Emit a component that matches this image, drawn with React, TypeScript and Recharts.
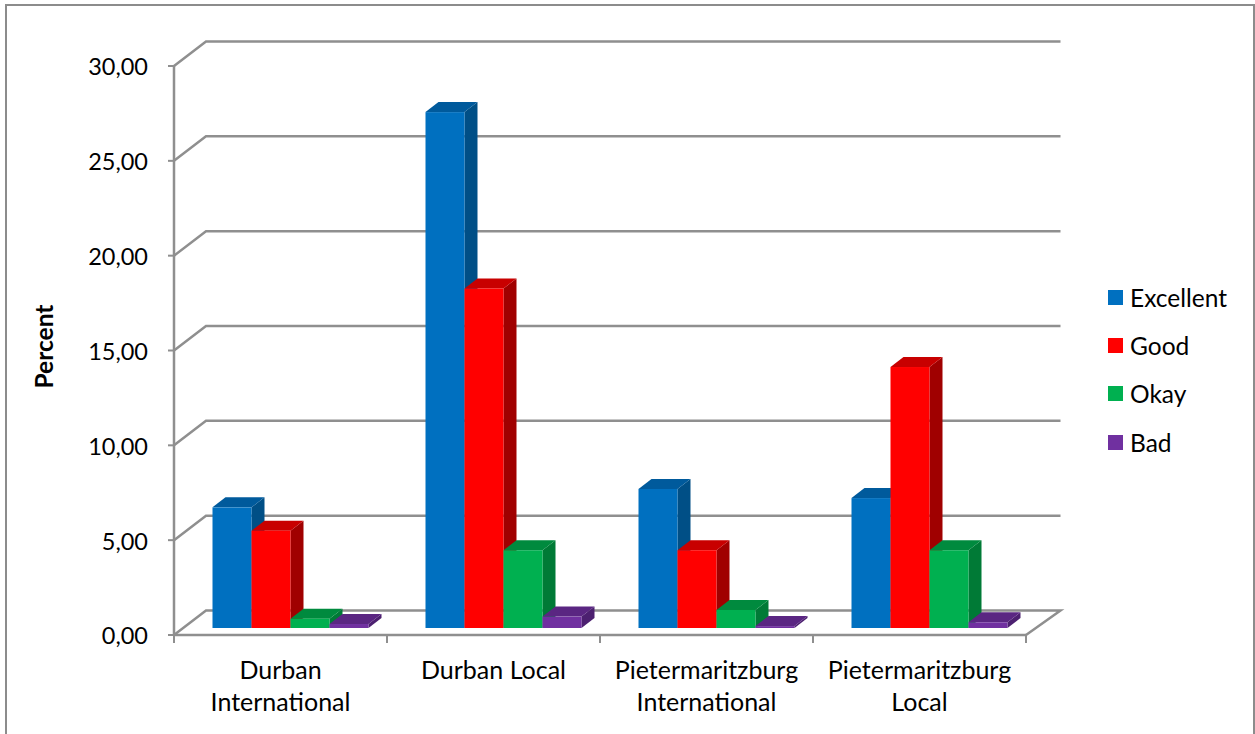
import { BarChart, Bar, XAxis, YAxis, CartesianGrid, Legend } from "recharts";

const categories = [
  "Durban International",
  "Durban Local",
  "Pietermaritzburg International",
  "Pietermaritzburg Local",
];
const categoryLines = [
  ["Durban", "International"],
  ["Durban Local"],
  ["Pietermaritzburg", "International"],
  ["Pietermaritzburg", "Local"],
];
const excellent = [6.36, 27.2, 7.33, 6.85];
const good = [5.13, 17.9, 4.1, 13.76];
const okay = [0.49, 4.1, 0.95, 4.1];
const bad = [0.21, 0.6, 0.1, 0.3];
const yTicks = [0, 5, 10, 15, 20, 25, 30];

const data = categories.map((name, i) => ({
  name,
  Excellent: excellent[i],
  Good: good[i],
  Okay: okay[i],
  Bad: bad[i],
}));

const FONT = "Lato, sans-serif";
const LINE = "#8f8f8f";
const BAND = 213;
// back wall sits up and to the right of the front axes
const WALL_DX = 32;
const WALL_DY = 24.5;
const WALL_RIGHT = 34.5;
// bars stand a little way in from the front edge of the floor
const BAR_DX = 9.5;
const BAR_DY = 7;
const DEPTH_X = 13;
const DEPTH_Y = 10;

const shades: Record<string, { top: string; side: string }> = {
  "#0070c0": { top: "#005a9c", side: "#004f86" },
  "#ff0000": { top: "#c80000", side: "#a00000" },
  "#00b050": { top: "#008a3e", side: "#007a36" },
  "#7030a0": { top: "#5a2682", side: "#4c2070" },
};

function Bar3D(props: any) {
  const { x, y, width, height, fill } = props;
  const left = x + BAR_DX;
  const top = y - BAR_DY;
  const right = left + width;
  const bottom = top + height;
  const { top: topFill, side } = shades[fill];
  return (
    <g>
      <polygon
        points={`${right},${top} ${right + DEPTH_X},${top - DEPTH_Y} ${right + DEPTH_X},${bottom - DEPTH_Y} ${right},${bottom}`}
        fill={side}
      />
      <polygon
        points={`${left},${top} ${left + DEPTH_X},${top - DEPTH_Y} ${right + DEPTH_X},${top - DEPTH_Y} ${right},${top}`}
        fill={topFill}
      />
      <rect x={left} y={top} width={width} height={height} fill={fill} />
    </g>
  );
}

// gridline runs up the side wall, then along the back wall
function WallLine(props: any) {
  const { x1, y1, x2, index } = props;
  const backY = y1 - WALL_DY;
  const isFloor = y1 > 600;
  const points = [`${x1},${y1}`, `${x1 + WALL_DX},${backY}`, `${x2 + WALL_RIGHT},${backY}`];
  if (isFloor) points.push(`${x2},${y1}`);
  return <polyline key={index} points={points.join(" ")} fill="none" stroke={LINE} strokeWidth={2.5} />;
}

function CategoryTick(props: any) {
  const { x, y, index } = props;
  const lines = categoryLines[index] ?? [];
  return (
    <g>
      <line x1={x - BAND / 2} y1={y} x2={x - BAND / 2} y2={y + 8} stroke={LINE} strokeWidth={2} />
      {index === categories.length - 1 && (
        <line x1={x + BAND / 2} y1={y} x2={x + BAND / 2} y2={y + 8} stroke={LINE} strokeWidth={2} />
      )}
      {lines.map((line, i) => (
        <text key={line} x={x} y={y + 44 + i * 32} textAnchor="middle" fontFamily={FONT} fontSize={25} fill="#000">
          {line}
        </text>
      ))}
    </g>
  );
}

function LegendList(props: any) {
  return (
    <div style={{ fontFamily: FONT, fontSize: 24.5, color: "#000" }}>
      {props.payload.map((item: any) => (
        <div key={item.value} style={{ display: "flex", alignItems: "center", height: 48.3 }}>
          <span style={{ width: 15, height: 15, background: item.color, marginRight: 7 }} />
          {item.value}
        </div>
      ))}
    </div>
  );
}

export default function App() {
  return (
    <div style={{ position: "fixed", left: 0, top: 0, width: 1255, height: 734, overflow: "hidden", background: "#fff" }}>
      <div
        style={{
          position: "absolute",
          left: 5,
          top: 4,
          width: 1246,
          height: 760,
          border: "2px solid #8c8c8c",
        }}
      />
      <BarChart
        width={1255}
        height={734}
        data={data}
        margin={{ top: 66, right: 229, bottom: 0, left: 74 }}
        barSize={39}
        barGap={0}
      >
        <CartesianGrid vertical={false} horizontal={WallLine} />
        <XAxis
          dataKey="name"
          height={99}
          interval={0}
          tickLine={false}
          tickSize={0}
          tickMargin={0}
          axisLine={{ stroke: LINE, strokeWidth: 2.5 }}
          tick={CategoryTick}
        />
        <YAxis
          width={100}
          domain={[0, 30]}
          ticks={yTicks}
          tickSize={6}
          tickMargin={20}
          tickLine={{ stroke: LINE, strokeWidth: 2 }}
          axisLine={{ stroke: LINE, strokeWidth: 2.5 }}
          tick={{ fill: "#000", fontSize: 23.5, fontFamily: FONT, dy: 1 }}
          tickFormatter={(v: number) => v.toFixed(2).replace(".", ",")}
          label={{
            value: "Percent",
            angle: -90,
            position: "insideLeft",
            dx: -35,
            dy: 38,
            style: { fill: "#000", fontSize: 24.5, fontWeight: 700, fontFamily: FONT },
          }}
        />
        <Legend
          layout="vertical"
          align="center"
          verticalAlign="middle"
          content={LegendList}
          itemSorter={null}
          wrapperStyle={{ left: 1108, top: 273, width: 140 }}
        />
        <Bar dataKey="Excellent" fill="#0070c0" shape={Bar3D} isAnimationActive={false} />
        <Bar dataKey="Good" fill="#ff0000" shape={Bar3D} isAnimationActive={false} />
        <Bar dataKey="Okay" fill="#00b050" shape={Bar3D} isAnimationActive={false} />
        <Bar dataKey="Bad" fill="#7030a0" shape={Bar3D} isAnimationActive={false} />
      </BarChart>
    </div>
  );
}
